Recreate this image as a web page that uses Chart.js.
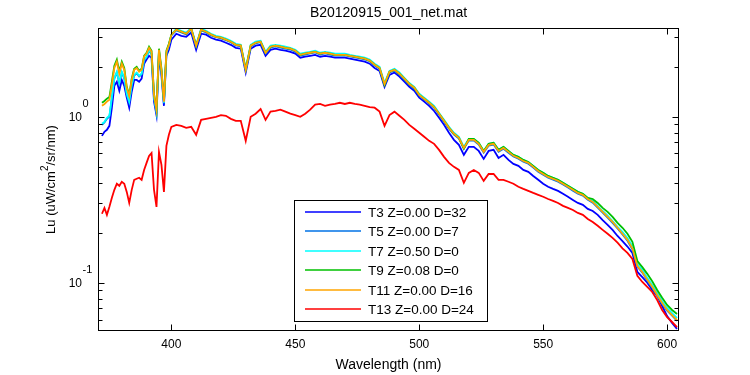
<!DOCTYPE html>
<html>
<head>
<meta charset="utf-8">
<title>B20120915_001_net.mat</title>
<script src="https://cdn.jsdelivr.net/npm/chart.js@4.4.0/dist/chart.umd.min.js"></script>
<style>
    body { margin: 0; background: #ffffff; }
    #spectraChart { display: block; }
</style>
</head>
<body>
<canvas id="spectraChart" width="750" height="375"></canvas>
<script>
'use strict';

// Wavelength (nm) - 1 nm steps below 400, 2 nm steps above
var wavelength = [
    372, 373, 374, 375, 376, 377, 378, 379, 380, 381, 382, 383, 384, 385, 386, 387, 388, 389, 390, 391,
    392, 393, 394, 395, 396, 397, 398, 399, 400,
    402, 404, 406, 408, 410, 412, 414, 416, 418, 420, 422, 424, 426, 428, 430, 432, 434, 436, 438, 440,
    442, 444, 446, 448, 450, 452, 454, 456, 458, 460, 462, 464, 466, 468, 470, 472, 474, 476, 478, 480,
    482, 484, 486, 488, 490, 492, 494, 496, 498, 500, 502, 504, 506, 508, 510, 512, 514, 516, 518, 520,
    522, 524, 526, 528, 530, 532, 534, 536, 538, 540, 542, 544, 546, 548, 550, 552, 554, 556, 558, 560,
    562, 564, 566, 568, 570, 572, 574, 576, 578, 580, 582, 584, 586, 588, 590, 592, 594, 596, 598, 600,
    602, 604
];

// Lu (uW/cm2/sr/nm) for each cast
var luT3 = [
    0.765, 0.810, 0.832, 0.879, 1.13, 1.53, 1.62, 1.43, 1.66, 1.53, 1.30, 1.13, 1.41, 1.66, 1.66, 1.62, 1.69, 2.08, 2.20, 2.32,
    2.26, 1.23, 1.02, 2.32, 1.76, 1.16, 2.32, 2.52, 2.90,
    3.15, 3.06, 3.02, 3.20, 2.52, 3.15, 3.11, 2.98, 2.90, 2.86,
    2.78, 2.70, 2.59, 2.56, 1.84, 2.56, 2.67, 2.70, 2.32, 2.52,
    2.56, 2.52, 2.49, 2.45, 2.39, 2.26, 2.29, 2.32, 2.35, 2.29,
    2.32, 2.29, 2.26, 2.26, 2.26, 2.23, 2.20, 2.17, 2.14, 2.08,
    1.96, 1.88, 1.51, 1.78, 1.84, 1.74, 1.62, 1.51, 1.43, 1.30,
    1.23, 1.16, 1.08, 0.982, 0.891, 0.799, 0.724, 0.675, 0.588, 0.657,
    0.657, 0.621, 0.556, 0.621, 0.630, 0.563, 0.588, 0.548, 0.519, 0.505,
    0.477, 0.465, 0.439, 0.416, 0.394, 0.378, 0.367, 0.357, 0.343, 0.329,
    0.315, 0.302, 0.294, 0.278, 0.270, 0.256, 0.238, 0.223, 0.208, 0.191,
    0.178, 0.165, 0.151, 0.116, 0.108, 0.100, 0.0904, 0.0832, 0.0724, 0.0630,
    0.0573, 0.0527
];
var luT5 = [
    0.89, 0.92, 0.97, 1.00, 1.29, 1.69, 1.84, 1.58, 1.84, 1.69, 1.35, 1.21, 1.53, 1.76, 1.82, 1.74, 1.79, 2.18, 2.27, 2.49,
    2.37, 1.30, 1.06, 2.46, 1.86, 1.20, 2.40, 2.67, 3.08,
    3.30, 3.21, 3.12, 3.35, 2.65, 3.30, 3.21, 3.08, 3.00, 2.95,
    2.88, 2.80, 2.68, 2.64, 1.90, 2.64, 2.76, 2.80, 2.40, 2.60,
    2.64, 2.60, 2.56, 2.53, 2.46, 2.33, 2.36, 2.40, 2.43, 2.36,
    2.40, 2.36, 2.33, 2.33, 2.33, 2.30, 2.27, 2.24, 2.21, 2.15,
    2.03, 1.94, 1.55, 1.84, 1.89, 1.79, 1.67, 1.55, 1.47, 1.34,
    1.27, 1.20, 1.13, 1.03, 0.932, 0.846, 0.779, 0.736, 0.640, 0.716,
    0.716, 0.678, 0.606, 0.668, 0.678, 0.614, 0.640, 0.606, 0.574, 0.557,
    0.534, 0.520, 0.493, 0.465, 0.446, 0.428, 0.417, 0.405, 0.390, 0.374,
    0.358, 0.343, 0.334, 0.316, 0.303, 0.283, 0.264, 0.246, 0.229, 0.212,
    0.195, 0.179, 0.159, 0.125, 0.115, 0.103, 0.0935, 0.0835, 0.0748, 0.0678,
    0.0633, 0.0590
];
var luT7 = [
    0.904, 0.929, 0.982, 1.01, 1.31, 1.71, 1.86, 1.60, 1.86, 1.71, 1.37, 1.23, 1.55, 1.78, 1.84, 1.76, 1.81, 2.20, 2.29, 2.52,
    2.39, 1.31, 1.07, 2.49, 1.88, 1.21, 2.42, 2.70, 3.11,
    3.38, 3.28, 3.20, 3.42, 2.70, 3.38, 3.28, 3.15, 3.06, 3.02,
    2.94, 2.86, 2.74, 2.70, 1.94, 2.70, 2.82, 2.86, 2.45, 2.67,
    2.70, 2.67, 2.63, 2.59, 2.52, 2.39, 2.42, 2.45, 2.49, 2.42,
    2.45, 2.42, 2.39, 2.39, 2.39, 2.35, 2.32, 2.29, 2.26, 2.20,
    2.08, 1.99, 1.59, 1.88, 1.94, 1.84, 1.71, 1.59, 1.51, 1.37,
    1.30, 1.23, 1.16, 1.05, 0.955, 0.867, 0.799, 0.755, 0.657, 0.734,
    0.734, 0.695, 0.621, 0.685, 0.695, 0.630, 0.657, 0.621, 0.588, 0.572,
    0.548, 0.533, 0.505, 0.477, 0.458, 0.439, 0.428, 0.416, 0.399, 0.383,
    0.367, 0.352, 0.343, 0.324, 0.311, 0.290, 0.270, 0.253, 0.235, 0.217,
    0.202, 0.186, 0.166, 0.130, 0.119, 0.107, 0.0970, 0.0867, 0.0776, 0.0705,
    0.0657, 0.0613
];
var luT9 = [
    1.21, 1.24, 1.28, 1.31, 1.62, 2.02, 2.20, 1.86, 2.14, 1.96, 1.51, 1.35, 1.69, 1.94, 1.99, 1.88, 1.94, 2.32, 2.42, 2.63,
    2.49, 1.37, 1.11, 2.56, 1.94, 1.24, 2.49, 2.74, 3.11,
    3.33, 3.24, 3.15, 3.38, 2.67, 3.33, 3.24, 3.11, 3.02, 2.98,
    2.90, 2.82, 2.70, 2.67, 1.93, 2.67, 2.78, 2.82, 2.42, 2.63,
    2.67, 2.63, 2.59, 2.56, 2.49, 2.35, 2.39, 2.42, 2.45, 2.39,
    2.42, 2.39, 2.35, 2.35, 2.35, 2.32, 2.29, 2.26, 2.23, 2.17,
    2.05, 1.96, 1.55, 1.86, 1.91, 1.81, 1.69, 1.57, 1.49, 1.35,
    1.28, 1.21, 1.14, 1.04, 0.942, 0.855, 0.787, 0.744, 0.640, 0.734,
    0.734, 0.695, 0.621, 0.685, 0.695, 0.630, 0.657, 0.621, 0.588, 0.572,
    0.548, 0.533, 0.505, 0.477, 0.458, 0.439, 0.428, 0.416, 0.399, 0.383,
    0.367, 0.352, 0.343, 0.324, 0.319, 0.302, 0.282, 0.267, 0.249, 0.229,
    0.214, 0.197, 0.176, 0.135, 0.124, 0.113, 0.102, 0.0904, 0.0811, 0.0734,
    0.0685, 0.0648
];
var luT11 = [
    1.16, 1.19, 1.23, 1.26, 1.55, 1.96, 2.14, 1.81, 2.08, 1.91, 1.49, 1.33, 1.66, 1.91, 1.96, 1.86, 1.91, 2.29, 2.39, 2.59,
    2.45, 1.35, 1.10, 2.52, 1.91, 1.23, 2.45, 2.70, 3.11,
    3.33, 3.24, 3.15, 3.38, 2.67, 3.33, 3.24, 3.11, 3.02, 2.98,
    2.90, 2.82, 2.70, 2.67, 1.91, 2.67, 2.78, 2.82, 2.42, 2.63,
    2.67, 2.63, 2.59, 2.56, 2.49, 2.35, 2.39, 2.42, 2.45, 2.39,
    2.42, 2.39, 2.35, 2.35, 2.35, 2.32, 2.29, 2.26, 2.23, 2.17,
    2.05, 1.96, 1.57, 1.86, 1.91, 1.81, 1.69, 1.57, 1.49, 1.35,
    1.28, 1.21, 1.14, 1.04, 0.942, 0.855, 0.787, 0.744, 0.647, 0.724,
    0.724, 0.685, 0.613, 0.675, 0.685, 0.621, 0.647, 0.613, 0.580, 0.563,
    0.540, 0.526, 0.498, 0.470, 0.451, 0.433, 0.422, 0.410, 0.394, 0.378,
    0.362, 0.347, 0.338, 0.319, 0.306, 0.286, 0.267, 0.249, 0.232, 0.214,
    0.197, 0.181, 0.161, 0.126, 0.116, 0.104, 0.0944, 0.0843, 0.0755, 0.0685,
    0.0639, 0.0596
];
var luT13 = [
    0.260, 0.282, 0.256, 0.286, 0.324, 0.362, 0.394, 0.383, 0.405, 0.394, 0.352, 0.302, 0.362, 0.416, 0.422, 0.428, 0.416, 0.477, 0.526, 0.580,
    0.604, 0.362, 0.286, 0.613, 0.512, 0.352, 0.666, 0.776, 0.867,
    0.891, 0.879, 0.855, 0.867, 0.776, 0.955, 0.968, 0.982, 0.996, 1.02,
    1.01, 0.968, 0.942, 0.942, 0.714, 0.996, 1.04, 1.11, 0.955, 1.07,
    1.08, 1.10, 1.07, 1.04, 1.02, 0.996, 1.04, 1.10, 1.18, 1.19,
    1.16, 1.18, 1.19, 1.21, 1.19, 1.21, 1.19, 1.18, 1.16, 1.14,
    1.13, 1.07, 0.879, 1.02, 1.07, 1.01, 0.955, 0.891, 0.844, 0.799,
    0.755, 0.714, 0.685, 0.630, 0.572, 0.526, 0.498, 0.477, 0.399, 0.458,
    0.477, 0.458, 0.410, 0.451, 0.451, 0.416, 0.416, 0.405, 0.394, 0.378,
    0.367, 0.357, 0.347, 0.338, 0.329, 0.319, 0.311, 0.302, 0.290, 0.282,
    0.274, 0.263, 0.256, 0.242, 0.232, 0.220, 0.208, 0.197, 0.186, 0.174,
    0.161, 0.151, 0.139, 0.110, 0.101, 0.0944, 0.0879, 0.0787, 0.0685, 0.0621,
    0.0580, 0.0541
];

var seriesLabels = ['T3 Z=0.00 D=32', 'T5 Z=0.00 D=7', 'T7 Z=0.50 D=0', 'T9 Z=0.08 D=0', 'T11 Z=0.00 D=16', 'T13 Z=0.00 D=24'];
var seriesValues = [luT3, luT5, luT7, luT9, luT11, luT13];
var seriesColours = ['#0000ff', '#0072e6', '#00ffff', '#00c000', '#ffa500', '#ff0000'];

var xTicks = [400, 450, 500, 550, 600];
var yMajorTicks = [0.1, 1];
var yMinorTicks = [0.06, 0.07, 0.08, 0.09, 0.2, 0.3, 0.4, 0.5, 0.6, 0.7, 0.8, 0.9, 2, 3];

var titleText = 'B20120915_001_net.mat';
var xTitle = 'Wavelength (nm)';

var FONT = '"Liberation Sans", Arial, sans-serif';

function toPoints(values) {
    return wavelength.map(function (w, i) {
        return { x: w, y: values[i] };
    });
}

// MATLAB style box, inward ticks, labels and legend
var matlabAxes = {
    id: 'matlabAxes',
    afterDraw: function (chart) {
        var ctx = chart.ctx;
        var area = chart.chartArea;
        var xs = chart.scales.x;
        var ys = chart.scales.y;

        var l = Math.round(area.left) + 0.5;
        var r = Math.round(area.right) - 0.5;
        var t = Math.round(area.top) + 0.5;
        var b = Math.round(area.bottom) - 0.5;

        ctx.save();
        ctx.strokeStyle = '#000000';
        ctx.lineWidth = 1;
        ctx.strokeRect(l, t, r - l, b - t);

        ctx.beginPath();
        xTicks.forEach(function (v) {
            var px = Math.round(xs.getPixelForValue(v)) + 0.5;
            ctx.moveTo(px, b); ctx.lineTo(px, b - 6);
            ctx.moveTo(px, t); ctx.lineTo(px, t + 6);
        });
        yMajorTicks.forEach(function (v) {
            var py = Math.round(ys.getPixelForValue(v)) + 0.5;
            ctx.moveTo(l, py); ctx.lineTo(l + 6, py);
            ctx.moveTo(r, py); ctx.lineTo(r - 6, py);
        });
        yMinorTicks.forEach(function (v) {
            var py = Math.round(ys.getPixelForValue(v)) + 0.5;
            ctx.moveTo(l, py); ctx.lineTo(l + 4, py);
            ctx.moveTo(r, py); ctx.lineTo(r - 4, py);
        });
        ctx.stroke();

        ctx.fillStyle = '#000000';

        // x tick labels
        ctx.font = '12px ' + FONT;
        ctx.textAlign = 'center';
        ctx.textBaseline = 'middle';
        xTicks.forEach(function (v) {
            ctx.fillText(String(v), xs.getPixelForValue(v), 345);
        });

        // y tick labels as 10^n
        yMajorTicks.forEach(function (v) {
            var py = ys.getPixelForValue(v);
            ctx.font = '12px ' + FONT;
            ctx.textAlign = 'right';
            ctx.fillText('10', 82, py + 1);
            ctx.font = '11px ' + FONT;
            ctx.textAlign = 'left';
            ctx.fillText(String(Math.round(Math.log10(v))), 82.5, py - 12.5);
        });

        // title and x axis title
        ctx.textAlign = 'center';
        ctx.font = '14px ' + FONT;
        ctx.fillText(titleText, (area.left + area.right) / 2, 13.5);
        ctx.fillText(xTitle, (area.left + area.right) / 2, 365);

        // y axis title with superscript
        ctx.save();
        ctx.translate(51, (area.top + area.bottom) / 2);
        ctx.rotate(-Math.PI / 2);
        ctx.textAlign = 'left';
        ctx.font = '13px ' + FONT;
        var part1 = 'Lu (uW/cm', sup = '2', part2 = '/sr/nm)';
        var w1 = ctx.measureText(part1).width;
        var w2 = ctx.measureText(part2).width;
        ctx.font = '10px ' + FONT;
        var ws = ctx.measureText(sup).width;
        var x0 = -(w1 + ws + w2) / 2;
        ctx.font = '13px ' + FONT;
        ctx.fillText(part1, x0, 0);
        ctx.fillText(part2, x0 + w1 + ws, 0);
        ctx.font = '10px ' + FONT;
        ctx.fillText(sup, x0 + w1, -6);
        ctx.restore();

        // legend box
        var lx = 294.5, ly = 200.5, lw = 193, lh = 121;
        ctx.fillStyle = '#ffffff';
        ctx.fillRect(lx, ly, lw, lh);
        ctx.strokeStyle = '#000000';
        ctx.lineWidth = 1;
        ctx.strokeRect(lx, ly, lw, lh);

        ctx.font = '13.5px ' + FONT;
        ctx.textAlign = 'left';
        ctx.textBaseline = 'middle';
        for (var i = 0; i < seriesLabels.length; i++) {
            var rowY = Math.round(211.7 + i * 19.5);
            ctx.strokeStyle = seriesColours[i];
            ctx.lineWidth = 1.4;
            ctx.beginPath();
            ctx.moveTo(305, rowY);
            ctx.lineTo(361, rowY);
            ctx.stroke();
            ctx.fillStyle = '#000000';
            ctx.fillText(seriesLabels[i], 368, rowY + 1);
        }

        ctx.restore();
    }
};

// later casts are drawn on top, as in the original figure
var datasets = seriesLabels.map(function (label, i) {
    return {
        label: label,
        data: toPoints(seriesValues[i]),
        borderColor: seriesColours[i],
        backgroundColor: seriesColours[i],
        borderWidth: 1.8,
        pointRadius: 0,
        tension: 0,
        fill: false,
        order: seriesLabels.length - i
    };
});

var chart = new Chart(document.getElementById('spectraChart'), {
    type: 'line',
    data: { datasets: datasets },
    options: {
        responsive: false,
        devicePixelRatio: 1,
        animation: false,
        events: [],
        layout: {
            padding: { left: 98, right: 71, top: 28, bottom: 44 }
        },
        plugins: {
            legend: { display: false },
            title: { display: false },
            tooltip: { enabled: false }
        },
        scales: {
            x: {
                type: 'linear',
                min: 370.4,
                max: 604.8,
                display: false
            },
            y: {
                type: 'logarithmic',
                min: 0.0512,
                max: 3.41,
                display: false
            }
        }
    },
    plugins: [matlabAxes]
});
</script>
</body>
</html>
